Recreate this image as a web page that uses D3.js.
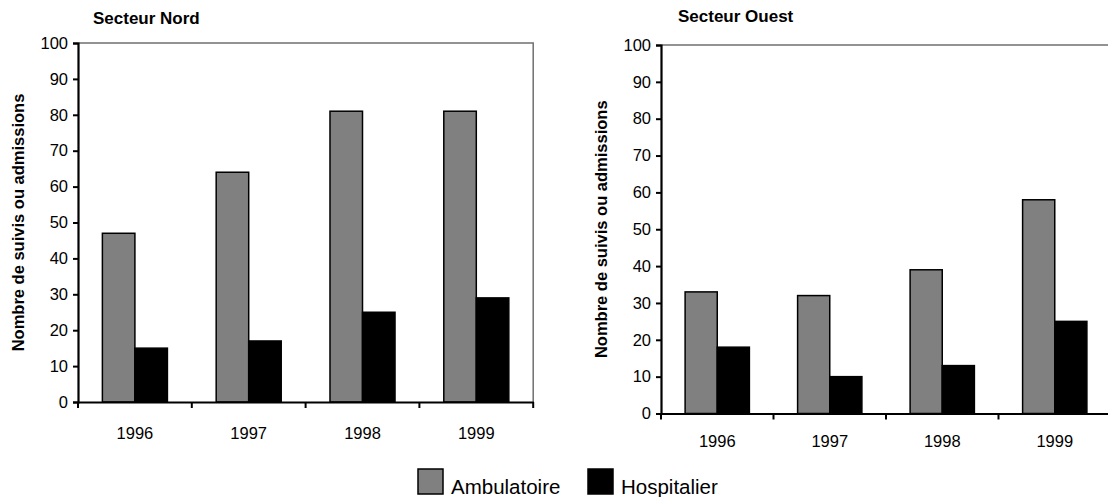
<!DOCTYPE html>
<html>
<head>
<meta charset="utf-8">
<script src="https://cdn.jsdelivr.net/npm/d3@7"></script>
<style>
  html, body { margin: 0; padding: 0; background: #fff; }
  svg { display: block; font-family: "Liberation Sans", Arial, sans-serif; }
</style>
</head>
<body>
<svg id="chart" width="1108" height="497"></svg>
<script>
const years = ["1996", "1997", "1998", "1999"];
const seriesNames = ["Ambulatoire", "Hospitalier"];
const seriesColors = ["#808080", "#000000"];
const nordAmbulatoire = [47, 64, 81, 81];
const nordHospitalier = [15, 17, 25, 29];
const ouestAmbulatoire = [33, 32, 39, 58];
const ouestHospitalier = [18, 10, 13, 25];
const yTicks = [0, 10, 20, 30, 40, 50, 60, 70, 80, 90, 100];
const yTitle = "Nombre de suivis ou admissions";

const svg = d3.select("#chart");

function drawPanel(opts) {
  const { title, ambulatoire, hospitalier, left, top, bottom, step, titleX, titleY, yTitleX, labelPad } = opts;
  const g = svg.append("g");

  const x = d3.scaleBand().domain(years).range([left, left + step * years.length]).padding(0);
  const xs = d3.scaleBand().domain(seriesNames).range([0, x.bandwidth()]).paddingInner(0).paddingOuter(0.75);
  const y = d3.scaleLinear().domain([0, 100]).range([bottom, top]);
  const right = left + step * years.length;

  // plot frame: top and right edges
  g.append("path")
    .attr("d", `M${left},${top}H${right}V${bottom}`)
    .attr("fill", "none").attr("stroke", "#707070").attr("stroke-width", 1.5);

  // bars
  const rows = years.map((yr, i) => ({ year: yr, values: [ambulatoire[i], hospitalier[i]] }));
  const grp = g.selectAll("g.year").data(rows).join("g")
    .attr("transform", d => `translate(${x(d.year)},0)`);
  grp.selectAll("rect").data(d => d.values.map((v, k) => ({ key: seriesNames[k], v, k })))
    .join("rect")
    .attr("x", d => xs(d.key))
    .attr("y", d => y(d.v))
    .attr("width", xs.bandwidth())
    .attr("height", d => y(0) - y(d.v))
    .attr("fill", d => seriesColors[d.k])
    .attr("stroke", "#000").attr("stroke-width", 1.5);

  // y axis
  const ya = g.append("g").attr("transform", `translate(${left},0)`)
    .call(d3.axisLeft(y).tickValues(yTicks).tickSize(5).tickPadding(5));
  ya.select(".domain").attr("stroke", "#000").attr("stroke-width", 2.2);
  ya.selectAll(".tick line").attr("stroke-width", 2);
  ya.selectAll(".tick text").attr("font-size", 16.5).attr("fill", "#000")
    .attr("font-family", "Liberation Sans, Arial, sans-serif");

  // x axis: labels at category centres, ticks at category boundaries
  const xa = g.append("g").attr("transform", `translate(0,${bottom})`)
    .call(d3.axisBottom(x).tickSize(0).tickPadding(labelPad));
  xa.select(".domain").attr("stroke", "#000").attr("stroke-width", 2.2);
  xa.selectAll(".tick text").attr("font-size", 16.5).attr("fill", "#000")
    .attr("font-family", "Liberation Sans, Arial, sans-serif");
  const bounds = years.map(yr => x(yr)).concat([right]);
  g.append("g").selectAll("line").data(bounds).join("line")
    .attr("x1", d => d).attr("x2", d => d)
    .attr("y1", bottom).attr("y2", bottom + 6)
    .attr("stroke", "#000").attr("stroke-width", 2);

  // titles
  g.append("text").attr("x", titleX).attr("y", titleY)
    .attr("font-size", 17).attr("font-weight", "bold").text(title);
  g.append("text")
    .attr("transform", `translate(${yTitleX},${(top + bottom) / 2}) rotate(-90)`)
    .attr("text-anchor", "middle")
    .attr("font-size", 16.5).attr("font-weight", "bold").text(yTitle);
}

drawPanel({
  title: "Secteur Nord", ambulatoire: nordAmbulatoire, hospitalier: nordHospitalier,
  left: 78, top: 43, bottom: 402, step: 113.8, titleX: 93, titleY: 24, yTitleX: 24, labelPad: 25
});
drawPanel({
  title: "Secteur Ouest", ambulatoire: ouestAmbulatoire, hospitalier: ouestHospitalier,
  left: 661, top: 45, bottom: 413.5, step: 112.5, titleX: 678, titleY: 22, yTitleX: 607, labelPad: 22
});

// legend
const legend = svg.append("g");
const legendX = [418, 588];
seriesNames.forEach((name, i) => {
  legend.append("rect").attr("x", legendX[i]).attr("y", 469).attr("width", 25).attr("height", 25)
    .attr("fill", seriesColors[i]).attr("stroke", "#000").attr("stroke-width", 1.5);
  legend.append("text").attr("x", legendX[i] + 33).attr("y", 494)
    .attr("font-size", 20.5).text(name);
});
</script>
</body>
</html>
